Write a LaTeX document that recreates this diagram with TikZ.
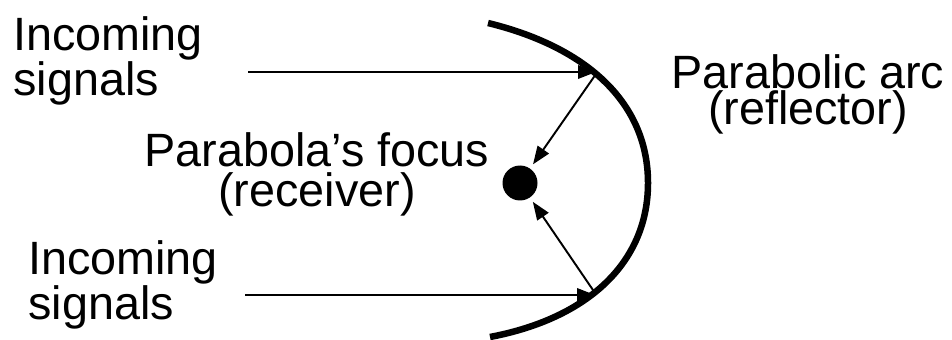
\documentclass[tikz,border=0pt]{standalone}
\usepackage{fontspec}
\setmainfont{Liberation Sans}
\usetikzlibrary{positioning, arrows.meta}

\begin{document}
\begin{tikzpicture}[
    x=0.02cm,
    y=-0.02cm,
    lbl/.style={inner sep=0pt, font=\fontsize{26.6}{21}\selectfont},
    sig/.style={-{Triangle[length=0.36cm, width=0.27cm]}, line width=1.1pt},
    reflector/.style={line width=3.7pt}
]

\useasboundingbox (0,0) rectangle (952,340);

% Parabolic reflector, opening to the left.
\draw[reflector] (488,23) .. controls (590,48) and (648,105) .. (648,183)
    .. controls (648,261) and (590,318) .. (490,337);

\coordinate (hitTop) at (596,74);
\coordinate (hitBot) at (595,293);
\coordinate (inTop) at (248,72);
\coordinate (inBot) at (245,295);

% Receiver at the focus.
\node[circle, fill=black, minimum size=0.7cm, inner sep=0pt, outer sep=3pt] (focus) at (520,183) {};

% Labels
\node[lbl, anchor=north west, align=left] (sigTop) at (13,16) {Incoming\\signals};
\node[lbl, anchor=north west, align=left, font=\fontsize{26.6}{19.8}\selectfont] (sigBot) at (28,240) {Incoming\\signals};
\node[lbl, anchor=north, align=center, font=\fontsize{26.6}{22.7}\selectfont] (focusLbl) at (317,132) {Parabola’s focus\\(receiver)};
\node[lbl, anchor=north, align=center, font=\fontsize{26.6}{17.6}\selectfont] (arcLbl) at (808,54) {Parabolic arc\\(reflector)};

% Incoming rays and their reflections.
\draw[sig] (inTop) -- (hitTop |- inTop);
\draw[sig] (inBot) -- (hitBot |- inBot);
\draw[sig] (hitTop) -- (focus);
\draw[sig] (hitBot) -- (focus);

\end{tikzpicture}
\end{document}
